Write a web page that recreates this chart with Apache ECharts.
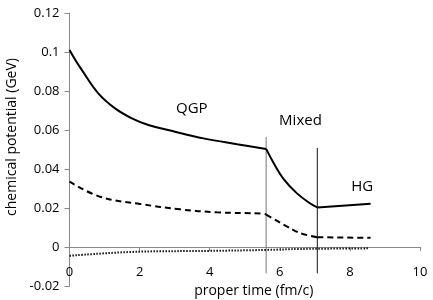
<!DOCTYPE html>
<html><head><meta charset="utf-8">
<script src="https://cdn.jsdelivr.net/npm/echarts@6/dist/echarts.min.js"></script>
<style>html,body{margin:0;padding:0;background:#fff}#c{width:433px;height:300px}</style>
</head><body><div id="c"></div>
<script>
// proper time (fm/c) and chemical potential (GeV), split by phase
var solidQgpX = [0, 0.18, 0.35, 0.82, 1.30, 1.78, 2.25, 3.01, 3.82, 4.78, 5.61];
var solidQgpY = [0.101, 0.0955, 0.0908, 0.0788, 0.0711, 0.066, 0.0626, 0.0591, 0.0557, 0.0527, 0.0503];
var solidMixX = [5.61, 5.82, 6.11, 6.49, 6.87, 7.07];
var solidMixY = [0.0503, 0.0432, 0.0348, 0.0275, 0.0223, 0.0203];
var solidHgX = [7.07, 8.59];
var solidHgY = [0.0203, 0.0222];
var dashQgpX = [0, 0.87, 2.01, 3.16, 4.2, 5.54, 5.61];
var dashQgpY = [0.0335, 0.0258, 0.0221, 0.0193, 0.0178, 0.0171, 0.0166];
var dashMixX = [5.61, 6.3, 6.59, 7.07];
var dashMixY = [0.0166, 0.0096, 0.007, 0.005];
var dashHgX = [7.07, 8.59];
var dashHgY = [0.005, 0.0047];
var dotX = [0, 1.97, 3.96, 5.59, 6.59, 8.53];
var dotY = [-0.0045, -0.0024, -0.002, -0.0015, -0.001, -0.0007];
var boundX = [5.61, 7.07];
var boundTop = [0.0564, 0.0508];
var boundBottom = [-0.0135, -0.0135];
var phaseLabels = ['QGP', 'Mixed', 'HG'];
var phaseLabelPos = [[3.49, 0.0708], [6.59, 0.0648], [8.35, 0.0309]];

function pairs(xs, ys){ return xs.map(function(x,i){ return [x, ys[i]]; }); }
var font = 'Open Sans';
var chart = echarts.init(document.getElementById('c'));
function curve(xs, ys, style, smooth){
  return {type:'line', data: pairs(xs, ys), smooth: smooth, symbol:'none', lineStyle: style, z:5};
}
var solid = {color:'#000', width:2};
var dashed = {color:'#000', width:2, type:[6,4]};
var dotted = {color:'#111', width:2, type:[1.5,1.5]};
var series = [
  curve(solidQgpX, solidQgpY, solid, 0.4),
  curve(solidMixX, solidMixY, solid, 0.4),
  curve(solidHgX, solidHgY, solid, false),
  curve(dashQgpX, dashQgpY, dashed, 0.4),
  curve(dashMixX, dashMixY, dashed, 0.3),
  curve(dashHgX, dashHgY, dashed, false),
  curve(dotX, dotY, dotted, 0.4)
];
boundX.forEach(function(x,i){
  series.push({type:'line', data:[[x, boundTop[i]],[x, boundBottom[i]]], symbol:'none', lineStyle:{color: i===0 ? '#777' : '#111', width:1}, z:3});
});
series.push({type:'scatter', data: phaseLabelPos, symbolSize:1, itemStyle:{opacity:0}, silent:true,
  label:{show:true, position:'inside', formatter:function(p){ return phaseLabels[p.dataIndex]; }, fontFamily:font, fontSize:15, color:'#000', opacity:1}});
chart.setOption({
  animation:false,
  grid:{left:69.5, right:13, top:13, bottom:14, outerBoundsMode:'none', containLabel:false},
  xAxis:{type:'value', min:0, max:10, interval:2, position:'bottom', offset:-39,
    name:'proper time (fm/c)', nameLocation:'middle', nameGap:33,
    nameTextStyle:{fontFamily:font, fontSize:14, color:'#000', padding:[0,0,0,18]},
    axisLine:{onZero:false, lineStyle:{color:'#888', width:1}},
    axisTick:{show:true, inside:false, length:4, lineStyle:{color:'#888'}},
    axisLabel:{margin:19, fontFamily:font, fontSize:13, color:'#000', formatter:function(v){ return String(v); }},
    splitLine:{show:false}},
  yAxis:{type:'value', min:-0.02, max:0.12, interval:0.02,
    name:'chemical potential (GeV)', nameLocation:'middle', nameGap:43,
    nameTextStyle:{fontFamily:font, fontSize:14, color:'#000', padding:[0,0,0,25]},
    axisLine:{show:true, onZero:false, lineStyle:{color:'#888', width:1}},
    axisTick:{show:true, length:5, lineStyle:{color:'#888'}},
    axisLabel:{margin:10, fontFamily:font, fontSize:13, color:'#000', formatter:function(v){ var r=Math.round(v*100)/100; return String(r); }},
    splitLine:{show:false}},
  series: series
});
</script></body></html>
